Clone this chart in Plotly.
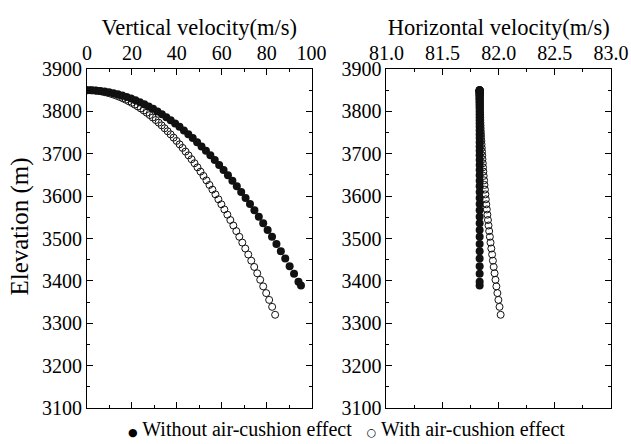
import plotly.graph_objects as go
from plotly.subplots import make_subplots

# Without air-cushion effect (filled circles)
vv_free = [0.00, 1.96, 3.92, 5.89, 7.85, 9.81, 11.77, 13.73, 15.70, 17.66,
           19.62, 21.58, 23.54, 25.51, 27.47, 29.43, 31.39, 33.35, 35.32, 37.28,
           39.24, 41.20, 43.16, 45.13, 47.09, 49.05, 51.01, 52.97, 54.94, 56.90,
           58.86, 60.82, 62.78, 64.75, 66.71, 68.67, 70.63, 72.59, 74.56, 76.52,
           78.48, 80.44, 82.40, 84.37, 86.33, 88.29, 90.25, 92.21, 94.18, 95.30]
elev_free = [3850.0, 3849.8, 3849.2, 3848.2, 3846.9, 3845.1, 3842.9, 3840.4, 3837.4, 3834.1,
             3830.4, 3826.3, 3821.8, 3816.8, 3811.6, 3805.9, 3799.8, 3793.3, 3786.4, 3779.2,
             3771.5, 3763.5, 3755.0, 3746.2, 3737.0, 3727.4, 3717.4, 3707.0, 3696.2, 3685.0,
             3673.4, 3661.5, 3649.1, 3636.3, 3623.2, 3609.7, 3595.7, 3581.4, 3566.7, 3551.6,
             3536.1, 3520.2, 3503.9, 3487.2, 3470.2, 3452.7, 3434.8, 3416.6, 3398.0, 3389.0]
vh_free = [81.83, 81.83, 81.83, 81.83, 81.83, 81.83, 81.83, 81.83, 81.83, 81.83,
           81.83, 81.83, 81.83, 81.83, 81.83, 81.83, 81.83, 81.83, 81.83, 81.83,
           81.83, 81.83, 81.83, 81.83, 81.83, 81.83, 81.83, 81.83, 81.83, 81.83,
           81.83, 81.83, 81.83, 81.83, 81.83, 81.83, 81.83, 81.83, 81.83, 81.83,
           81.83, 81.83, 81.83, 81.83, 81.83, 81.83, 81.83, 81.83, 81.83, 81.83]

# With air-cushion effect (open circles)
vv_cush = [0.00, 1.33, 2.66, 3.99, 5.32, 6.65, 7.98, 9.31, 10.64, 11.97,
           13.30, 14.63, 15.96, 17.29, 18.62, 19.95, 21.28, 22.61, 23.94, 25.27,
           26.60, 27.93, 29.26, 30.59, 31.92, 33.25, 34.58, 35.91, 37.24, 38.57,
           39.90, 41.23, 42.56, 43.89, 45.22, 46.55, 47.88, 49.21, 50.54, 51.87,
           53.20, 54.53, 55.86, 57.19, 58.52, 59.85, 61.18, 62.51, 63.84, 65.17,
           66.50, 67.83, 69.16, 70.49, 71.82, 73.15, 74.48, 75.81, 77.14, 78.47,
           79.80, 81.13, 82.46, 83.79]
elev_cush = [3850.0, 3849.9, 3849.5, 3848.8, 3847.9, 3846.7, 3845.2, 3843.5, 3841.5, 3839.2,
             3836.7, 3833.9, 3830.8, 3827.5, 3823.9, 3820.1, 3816.0, 3811.6, 3806.9, 3802.0,
             3796.8, 3791.3, 3785.6, 3779.6, 3773.4, 3766.9, 3760.1, 3753.0, 3745.7, 3738.1,
             3730.3, 3722.2, 3713.8, 3705.2, 3696.3, 3687.1, 3677.6, 3667.9, 3657.9, 3647.7,
             3637.2, 3626.4, 3615.4, 3604.1, 3592.5, 3580.7, 3568.6, 3556.2, 3543.6, 3530.7,
             3517.5, 3504.1, 3490.4, 3476.4, 3462.2, 3447.7, 3432.9, 3417.9, 3402.6, 3387.0,
             3371.2, 3355.1, 3338.7, 3320.0]
vh_cush = [81.830, 81.830, 81.830, 81.830, 81.830, 81.830, 81.830, 81.830, 81.830, 81.830,
           81.830, 81.830, 81.830, 81.830, 81.831, 81.831, 81.832, 81.832, 81.833, 81.833,
           81.834, 81.835, 81.835, 81.836, 81.837, 81.838, 81.839, 81.840, 81.842, 81.843,
           81.845, 81.847, 81.849, 81.851, 81.853, 81.855, 81.858, 81.860, 81.863, 81.866,
           81.870, 81.873, 81.877, 81.881, 81.885, 81.889, 81.894, 81.899, 81.904, 81.909,
           81.915, 81.921, 81.927, 81.934, 81.941, 81.948, 81.955, 81.963, 81.971, 81.979,
           81.988, 81.997, 82.007, 82.017]

vert_ticks = [0, 20, 40, 60, 80, 100]
horiz_ticks = [81.0, 81.5, 82.0, 82.5, 83.0]
horiz_labels = ["81.0", "81.5", "82.0", "82.5", "83.0"]
elev_ticks = [3100, 3200, 3300, 3400, 3500, 3600, 3700, 3800, 3900]

FONT = "Liberation Serif"
TICK_SIZE = 20
TITLE_SIZE = 22.5

fig = make_subplots(rows=1, cols=2, horizontal_spacing=0.143)

filled = dict(symbol="circle", size=8, color="#111111", line=dict(width=0))
hollow = dict(symbol="circle-open", size=7, color="#111111", line=dict(width=1))

fig.add_trace(go.Scatter(x=vv_free, y=elev_free, mode="markers", marker=filled,
                         name="Without air-cushion effect"), 1, 1)
fig.add_trace(go.Scatter(x=vv_cush, y=elev_cush, mode="markers", marker=hollow,
                         name="With air-cushion effect"), 1, 1)
fig.add_trace(go.Scatter(x=vh_cush, y=elev_cush, mode="markers", marker=hollow,
                         name="With air-cushion effect"), 1, 2)
fig.add_trace(go.Scatter(x=vh_free, y=elev_free, mode="markers", marker=filled,
                         name="Without air-cushion effect"), 1, 2)

axis_common = dict(showline=True, linecolor="black", linewidth=1, mirror="ticks",
                   ticks="inside", ticklen=6, tickwidth=1, tickcolor="black",
                   showgrid=False, zeroline=False,
                   tickfont=dict(family=FONT, size=TICK_SIZE, color="black"))

fig.update_xaxes(**axis_common, side="top", range=[0, 100], tickvals=vert_ticks,
                 minor=dict(ticks="inside", ticklen=3, dtick=10, tickcolor="black"),
                 title=dict(text="Vertical velocity(m/s)", standoff=0,
                            font=dict(family=FONT, size=TITLE_SIZE, color="black")),
                 row=1, col=1)
fig.update_xaxes(**axis_common, side="top", range=[81.0, 83.0], tickvals=horiz_ticks,
                 ticktext=horiz_labels,
                 minor=dict(ticks="inside", ticklen=3, dtick=0.25, tickcolor="black"),
                 title=dict(text="Horizontal velocity(m/s)", standoff=0,
                            font=dict(family=FONT, size=TITLE_SIZE, color="black")),
                 row=1, col=2)
fig.update_yaxes(**axis_common, range=[3100, 3900], tickvals=elev_ticks,
                 minor=dict(ticks="inside", ticklen=3, dtick=50, tickcolor="black"),
                 row=1, col=1)
fig.update_yaxes(**axis_common, range=[3100, 3900], tickvals=elev_ticks,
                 minor=dict(ticks="inside", ticklen=3, dtick=50, tickcolor="black"),
                 row=1, col=2)

# Shared elevation label on the left edge
fig.add_annotation(text="Elevation (m)", xref="paper", yref="paper",
                   x=-0.128, y=0.535, xanchor="center", yanchor="middle",
                   textangle=-90, showarrow=False,
                   font=dict(family=FONT, size=25, color="black"))

# Key line below the panels
key_text = ('<span style="font-family:DejaVu Sans;font-size:11px">●</span> Without air-cushion effect'
            '&nbsp;&nbsp;&nbsp;<span style="font-family:DejaVu Sans;font-size:11px">○</span> With air-cushion effect')
fig.add_annotation(text=key_text, xref="paper", yref="paper", x=0.495, y=-0.063,
                   xanchor="center", yanchor="middle", showarrow=False,
                   font=dict(family=FONT, size=20, color="black"))

fig.update_layout(
    width=631, height=444,
    margin=dict(l=87, r=20, t=69, b=36, autoexpand=False),
    paper_bgcolor="white", plot_bgcolor="white",
    font=dict(family=FONT, color="black"),
    showlegend=False,
)

fig.write_html("out.html")
